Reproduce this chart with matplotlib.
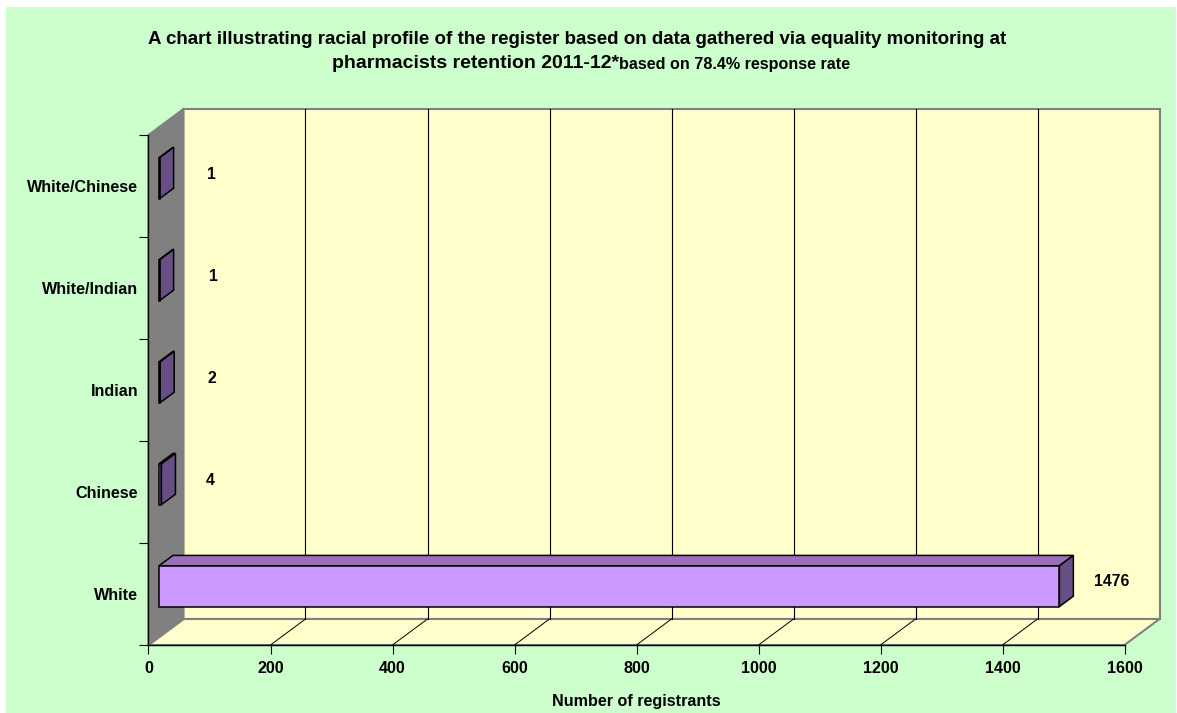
import matplotlib
matplotlib.use("Agg")
import matplotlib.pyplot as plt
from matplotlib.patches import Rectangle, Polygon

categories = ["White", "Chinese", "Indian", "White/Indian", "White/Chinese"]
values = [1476, 4, 2, 1, 1]
x_ticks = [0, 200, 400, 600, 800, 1000, 1200, 1400, 1600]
title_line1 = "A chart illustrating racial profile of the register based on data gathered via equality monitoring at"
title_line2a = "pharmacists retention 2011-12*"
title_line2b = "based on 78.4% response rate"
x_title = "Number of registrants"

# data-label placement relative to each bar's end, in pixels
label_dx = [52, 49, 52, 54, 52]
label_dy = [4.5, 3.5, 3.5, 3.5, 3.5]

W, H = 1177, 713
plt.rcParams["font.family"] = ["Liberation Sans", "DejaVu Sans"]
plt.rcParams["font.weight"] = "bold"
fig = plt.figure(figsize=(W / 100, H / 100), dpi=100, facecolor="white")

def fx(p): return p / W
def fy(p): return 1 - p / H

fig.add_artist(Rectangle((fx(6), fy(713)), fx(1170), 706 / H, transform=fig.transFigure,
                         facecolor="#CCFFCC", edgecolor="none", zorder=-5))

L, R, T, B = 148.5, 1124.5, 135, 645
ax = fig.add_axes([fx(L), fy(B), (R - L) / W, (B - T) / H])
ax.patch.set_visible(False)
ax.set_xlim(0, 1600)
ax.set_ylim(0, 5)

# oblique depth, in data units
DX = 35 / ((R - L) / 1600)
DY = 26 / ((B - T) / 5)
GREY = "#808080"
WALL = "#FFFFCC"
n = len(categories)
xmax = x_ticks[-1]

def wall(pts, fc, ec=GREY):
    ax.add_patch(Polygon(pts, closed=True, facecolor=fc, edgecolor=ec, lw=1.5, zorder=1,
                         clip_on=False, joinstyle="miter"))

wall([(DX, DY), (xmax + DX, DY), (xmax + DX, n + DY), (DX, n + DY)], WALL)
wall([(0, 0), (xmax, 0), (xmax + DX, DY), (DX, DY)], WALL)
wall([(0, 0), (DX, DY), (DX, n + DY), (0, n)], GREY)

for t in x_ticks[1:-1]:
    ax.plot([t + DX, t + DX], [DY, n + DY], color="black", lw=0.8, zorder=2, clip_on=False)
    ax.plot([t, t + DX], [0, DY], color="black", lw=0.7, zorder=2, clip_on=False)

# bars: front face via barh, depth faces as polygons from the same values
Z0, Z1 = 0.3, 0.7
HT = 0.4
pos = [i + 0.5 for i in range(n)]
FRONT, TOP, SIDE = "#CC99FF", "#9A70BA", "#674E85"
edge = dict(edgecolor="black", lw=1.1, joinstyle="miter", clip_on=False)
for p, v, ldx, ldy in zip(pos, values, label_dx, label_dy):
    left = Z0 * DX
    y0 = p - HT / 2 + Z0 * DY
    y1 = p + HT / 2 + Z0 * DY
    d = (Z1 - Z0)
    ax.add_patch(Polygon([(left, y1), (left + v, y1), (left + v + d * DX, y1 + d * DY), (left + d * DX, y1 + d * DY)],
                         facecolor=TOP, zorder=3, **edge))
    ax.add_patch(Polygon([(left + v, y0), (left + v + d * DX, y0 + d * DY), (left + v + d * DX, y1 + d * DY), (left + v, y1)],
                         facecolor=SIDE, zorder=3, **edge))
    ax.barh(p + Z0 * DY, v, height=HT, left=left, color=FRONT, zorder=4, **edge)
    ax.annotate(str(v), (left + v, p + Z0 * DY), xytext=(ldx * 0.72, ldy * 0.72),
                textcoords="offset points", ha="center", va="center",
                fontsize=11.3, fontweight="bold", color="black", zorder=6, annotation_clip=False)

for s in ("top", "right"):
    ax.spines[s].set_visible(False)
for s in ("left", "bottom"):
    ax.spines[s].set_linewidth(1.0)
    ax.spines[s].set_zorder(5)

ax.set_xticks(x_ticks)
ax.set_xticklabels([str(t) for t in x_ticks], fontsize=11.6, fontweight="bold")
ax.tick_params(axis="x", length=6.5, width=0.8, pad=5)
ax.set_yticks(range(n + 1))
ax.set_yticklabels([])
ax.set_yticks(pos, minor=True)
ax.set_yticklabels(categories, minor=True, fontsize=11.6, fontweight="bold")
ax.tick_params(axis="y", which="major", length=6.5, width=0.8)
ax.tick_params(axis="y", which="minor", length=0, pad=7.5)
ax.set_xlabel(x_title, fontsize=11.6, fontweight="bold", labelpad=13)

fig.text(fx(577), fy(39.5), title_line1, ha="center", va="center", fontsize=13.5, fontweight="bold")
fig.text(fx(331.5), fy(63.5), title_line2a, ha="left", va="center", fontsize=14, fontweight="bold")
fig.text(fx(619), fy(65), title_line2b, ha="left", va="center", fontsize=11.6, fontweight="bold")

fig.savefig("out.png", dpi=100, facecolor="white")
